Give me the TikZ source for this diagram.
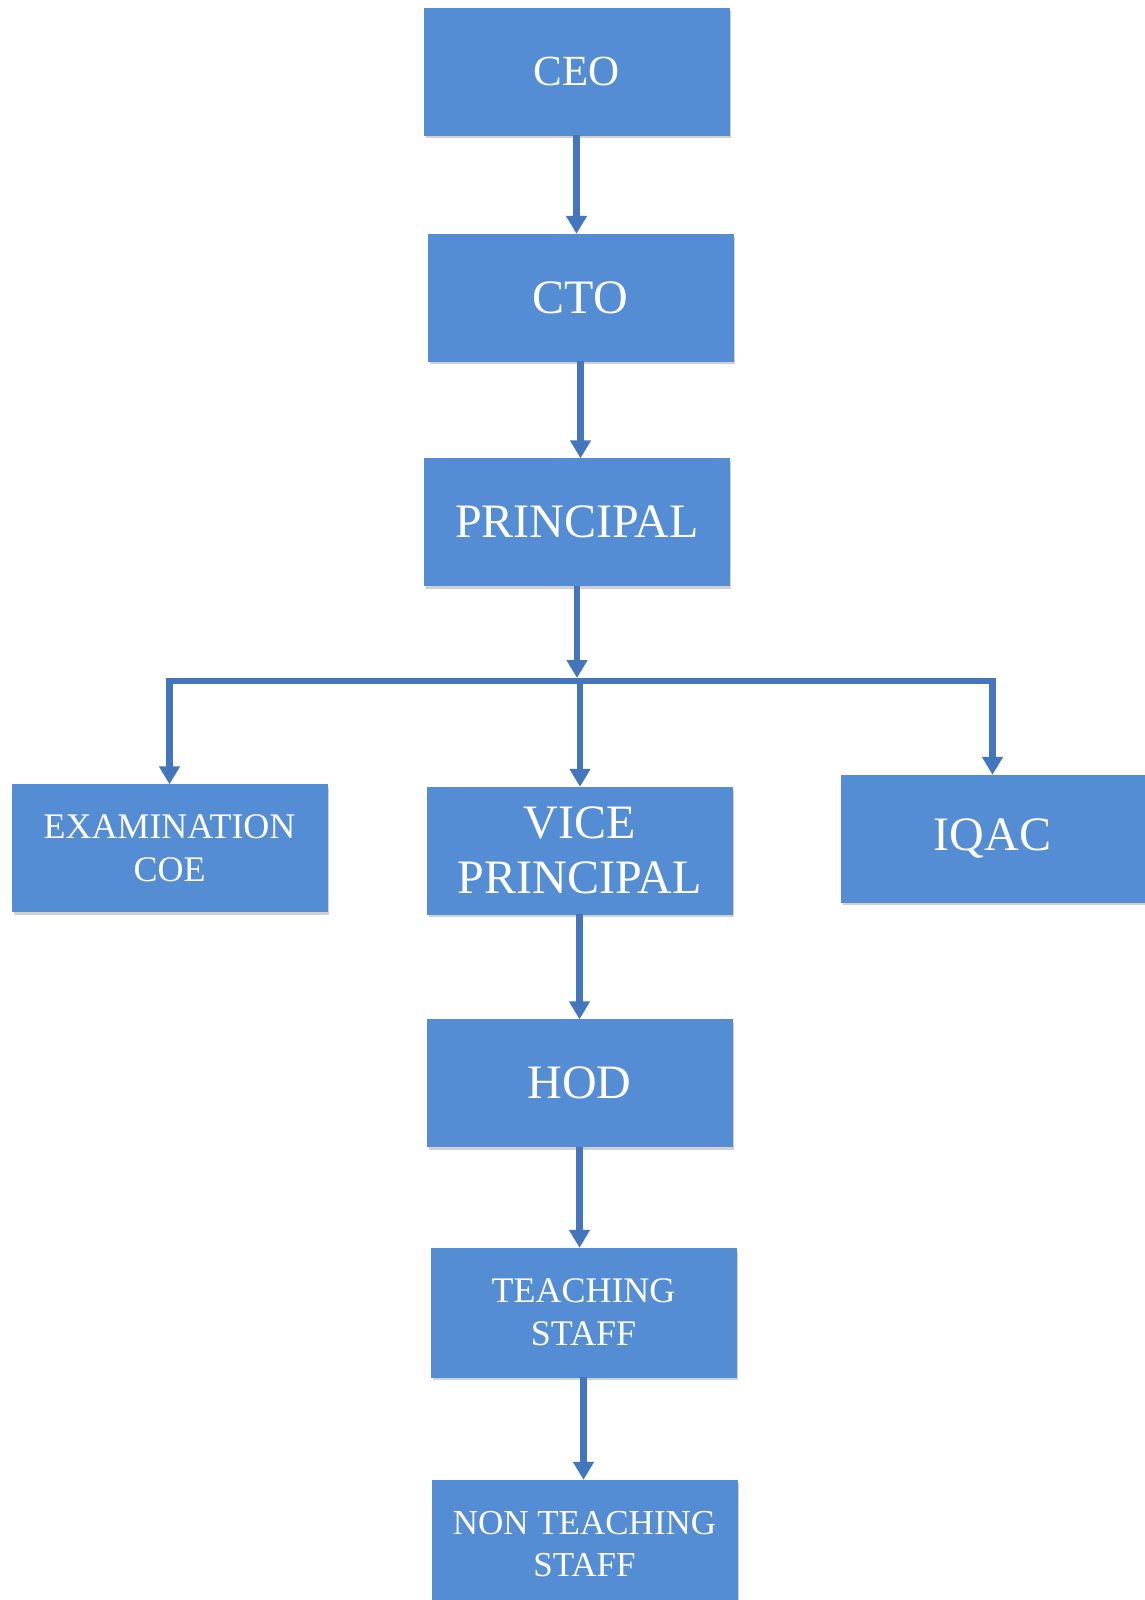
\documentclass[tikz,border=0pt]{standalone}
\usepackage{fontspec}
\setmainfont{Liberation Serif}
\usepackage{xcolor}
\usepackage{tikz}
\usetikzlibrary{arrows.meta, positioning, shadows, calc}

\definecolor{boxblue}{RGB}{85,141,212}
\definecolor{linkblue}{RGB}{68,118,190}

\tikzset{
    unit/.style={rectangle,fill=boxblue,draw=boxblue,text=white,align=center,
        minimum width=305pt,minimum height=127pt,
        drop shadow={shadow xshift=1.5pt,shadow yshift=-3pt,opacity=0.3,fill=black!60}},
    bigtext/.style={font=\fontsize{48}{55}\selectfont},
    smalltext/.style={font=\fontsize{36}{43}\selectfont},
    bar/.style={draw=linkblue,line width=6.5pt},
    link/.style={bar,-{Triangle[width=20pt,length=18pt]}}
}

\begin{document}
\begin{tikzpicture}[x=1pt,y=-1pt]
    \useasboundingbox (0,0) rectangle (1144,1600);

    % Vertice
    \node[unit,font=\fontsize{43}{50}\selectfont] (ceo) at (576.5,71.5) {CEO};
    \node[unit,bigtext] (cto) at (580.5,297.5) {CTO};
    \node[unit,bigtext] (principal) at (577,522) {PRINCIPAL};

    % Terzo livello
    \node[unit,smalltext,minimum width=315pt] (exam) at (169.5,848) {EXAMINATION\\COE};
    \node[unit,bigtext] (vice) at (579.5,850.5) {VICE\\PRINCIPAL};
    \node[unit,bigtext,minimum width=303pt] (iqac) at (992.5,838.5) {IQAC};

    % Dipartimenti e personale
    \node[unit,bigtext] (hod) at (579.5,1083) {HOD};
    \node[unit,smalltext,minimum height=129pt] (teaching) at (583.5,1312.5) {TEACHING\\STAFF};
    \node[unit,font=\fontsize{35}{42}\selectfont,minimum height=128pt] (nonteaching) at (584.5,1544) {NON TEACHING\\STAFF};

    % Collegamenti
    \coordinate (split) at (580,681);
    \draw[link] (ceo.south) -- (ceo.south |- cto.north);
    \draw[link] (cto.south) -- (cto.south |- principal.north);
    \draw[link,shorten >=3pt] (principal.south) -- (principal.south |- split);
    \draw[link] (split) -- (split |- vice.north);
    \draw[link] (split) -| (exam.north);
    \draw[link] (split) -| (iqac.north);
    \draw[link] (vice.south) -- (vice.south |- hod.north);
    \draw[link] (hod.south) -- (hod.south |- teaching.north);
    \draw[link] (teaching.south) -- (teaching.south |- nonteaching.north);
\end{tikzpicture}
\end{document}
